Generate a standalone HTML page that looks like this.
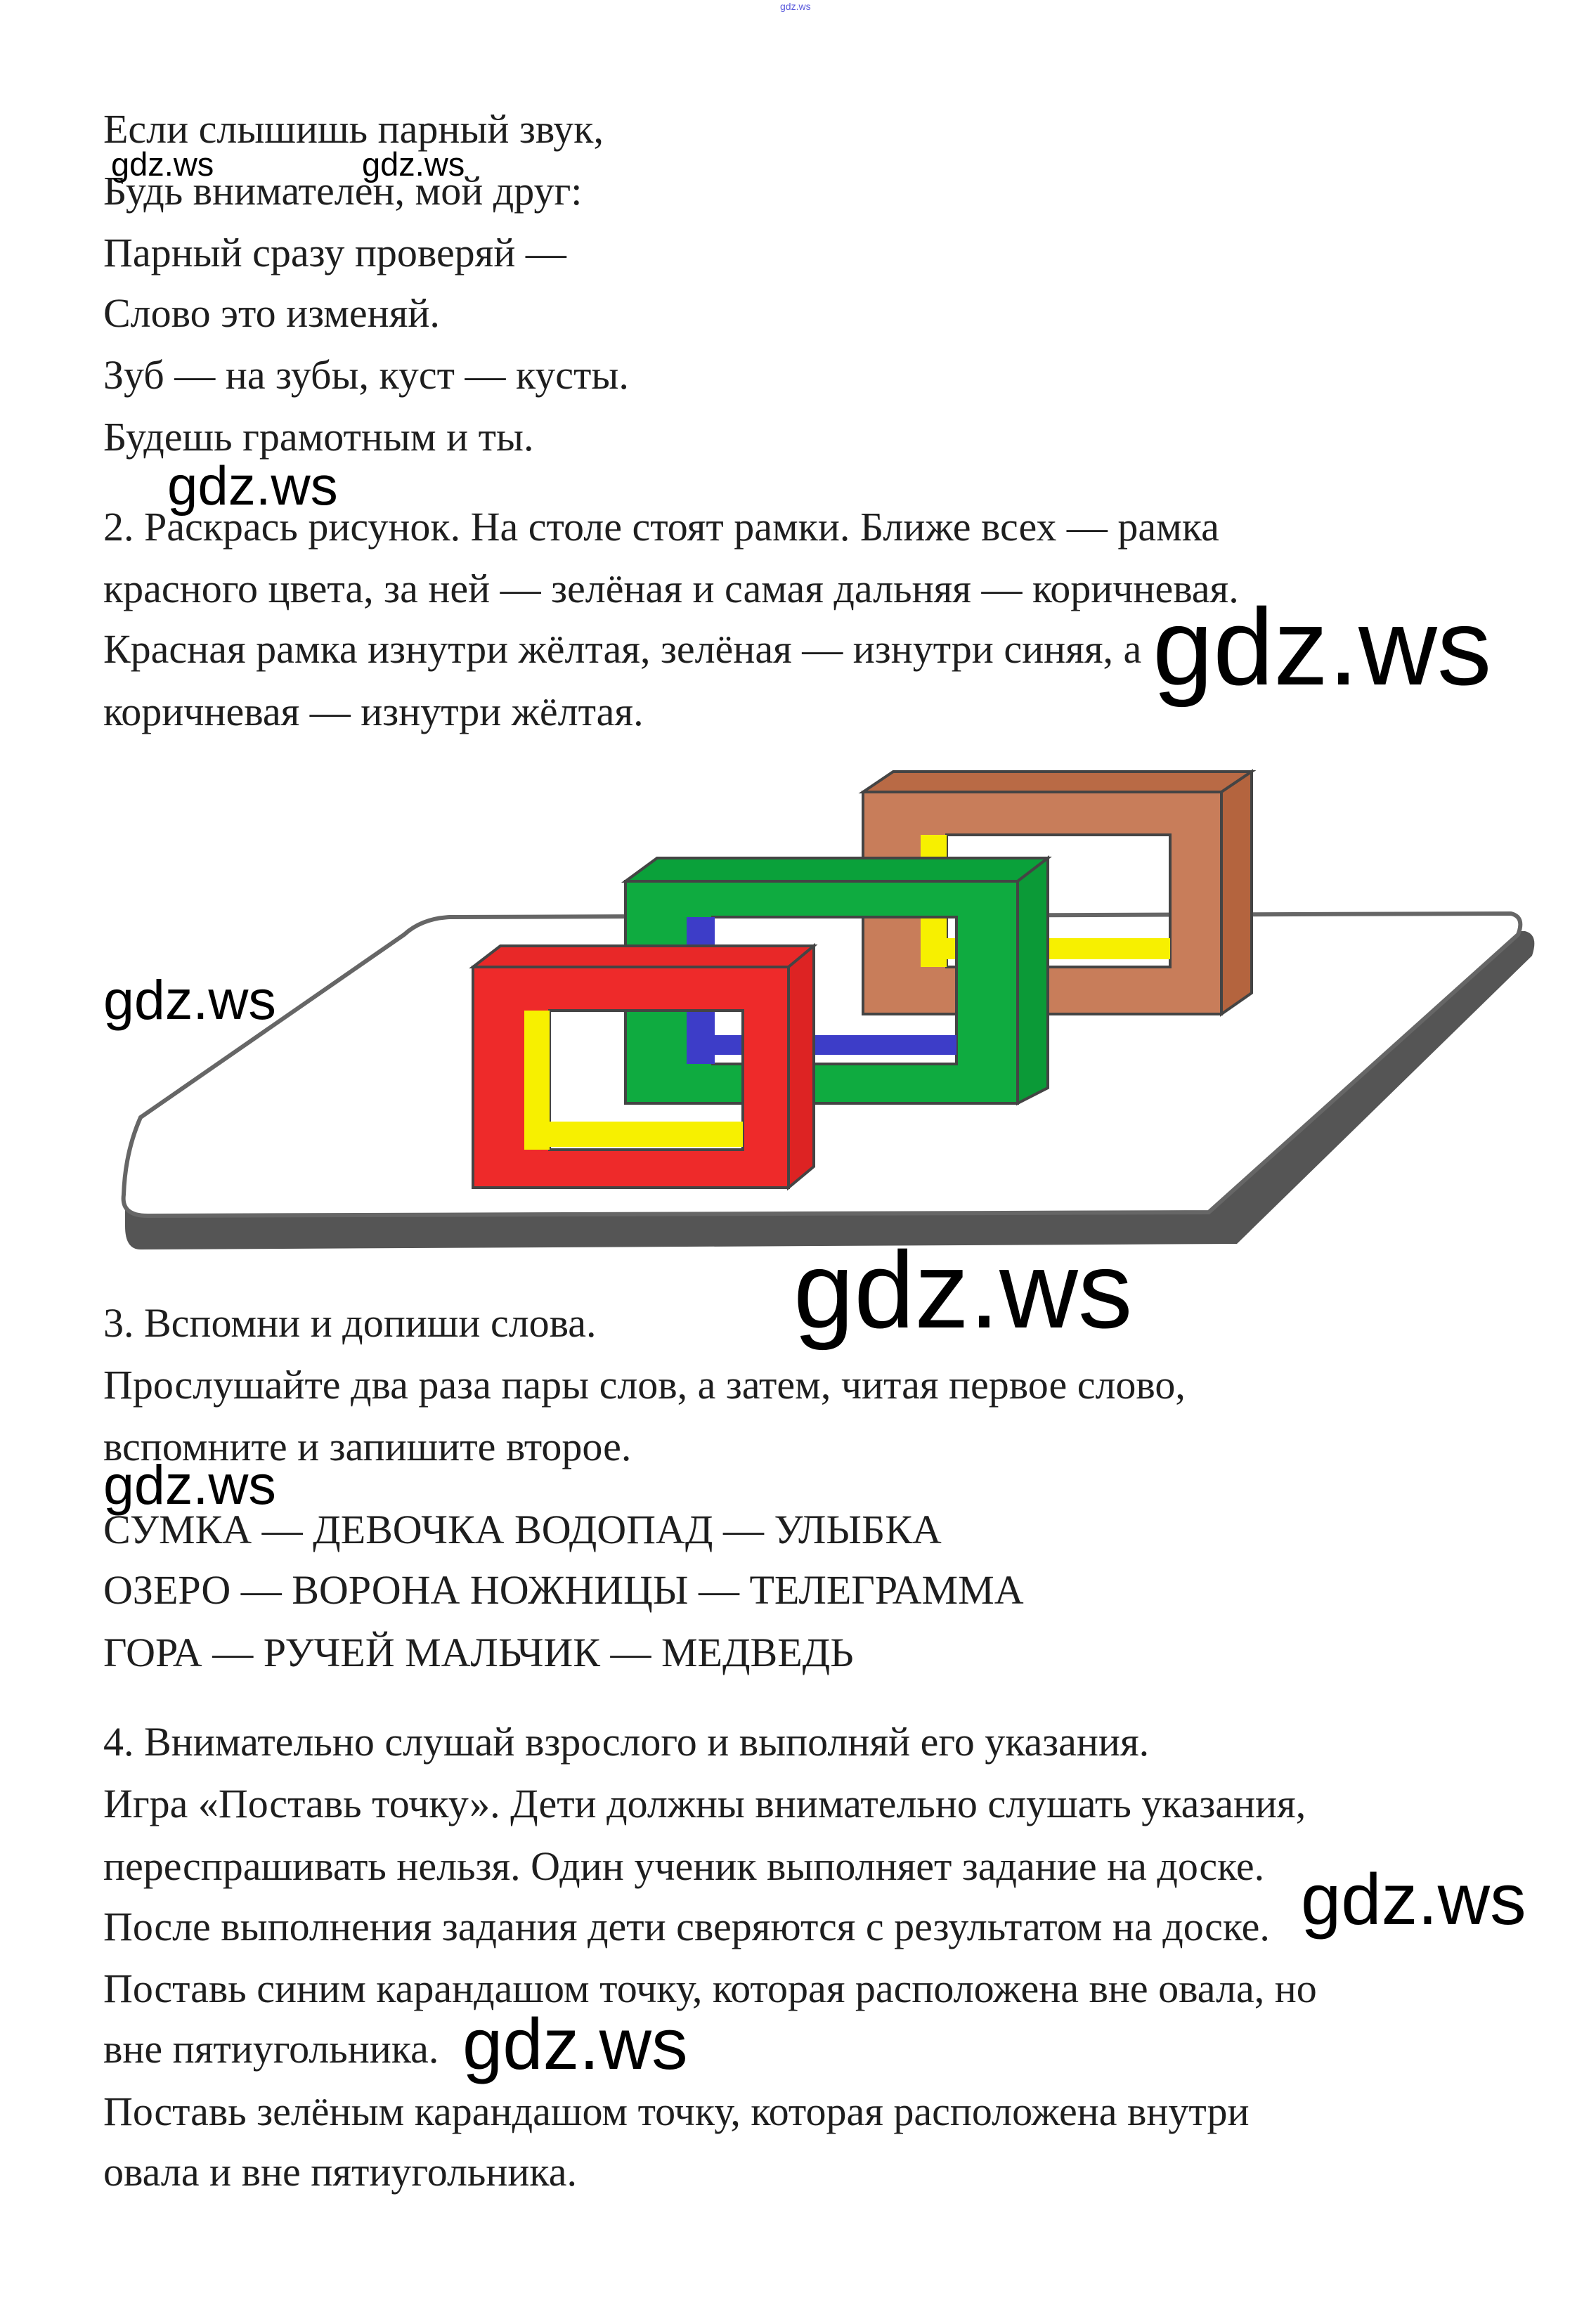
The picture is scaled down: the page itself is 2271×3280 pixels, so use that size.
<!DOCTYPE html>
<html><head><meta charset="utf-8"><style>
html,body{margin:0;padding:0;background:#fff}
body{width:2271px;height:3280px;position:relative;overflow:hidden}
.t{position:absolute;left:147px;font-family:"Liberation Serif","Noto Serif CJK SC",serif;font-size:58px;line-height:58px;color:#1e1e1e;white-space:nowrap}
.w{position:absolute;font-family:"Liberation Sans",sans-serif;line-height:1;color:#000;white-space:nowrap}
</style></head><body>
<div class="w" style="left:1110px;top:2px;font-size:14px;color:#5a5adc">gdz.ws</div>

<div class="t" style="top:155px">Если слышишь парный звук,</div>
<div class="t" style="top:243px">Будь внимателен, мой друг:</div>
<div class="t" style="top:331px">Парный сразу проверяй —</div>
<div class="t" style="top:417px">Слово это изменяй.</div>
<div class="t" style="top:505px">Зуб — на зубы, куст — кусты.</div>
<div class="t" style="top:593px">Будешь грамотным и ты.</div>

<div class="t" style="top:721px">2. Раскрась рисунок. На столе стоят рамки. Ближе всех — рамка</div>
<div class="t" style="top:809px">красного цвета, за ней — зелёная и самая дальняя — коричневая.</div>
<div class="t" style="top:895px">Красная рамка изнутри жёлтая, зелёная — изнутри синяя, а</div>
<div class="t" style="top:984px">коричневая — изнутри жёлтая.</div>

<div class="t" style="top:1854px">3. Вспомни и допиши слова.</div>
<div class="t" style="top:1942px">Прослушайте два раза пары слов, а затем, читая первое слово,</div>
<div class="t" style="top:2030px">вспомните и запишите второе.</div>
<div class="t" style="top:2148px">СУМКА — ДЕВОЧКА ВОДОПАД — УЛЫБКА</div>
<div class="t" style="top:2234px">ОЗЕРО — ВОРОНА НОЖНИЦЫ — ТЕЛЕГРАММА</div>
<div class="t" style="top:2323px">ГОРА — РУЧЕЙ МАЛЬЧИК — МЕДВЕДЬ</div>

<div class="t" style="top:2450px">4. Внимательно слушай взрослого и выполняй его указания.</div>
<div class="t" style="top:2538px">Игра «Поставь точку». Дети должны внимательно слушать указания,</div>
<div class="t" style="top:2627px">переспрашивать нельзя. Один ученик выполняет задание на доске.</div>
<div class="t" style="top:2713px">После выполнения задания дети сверяются с результатом на доске.</div>
<div class="t" style="top:2801px">Поставь синим карандашом точку, которая расположена вне овала, но</div>
<div class="t" style="top:2887px">вне пятиугольника.</div>
<div class="t" style="top:2976px">Поставь зелёным карандашом точку, которая расположена внутри</div>
<div class="t" style="top:3062px">овала и вне пятиугольника.</div>

<svg style="position:absolute;left:0;top:0" width="2271" height="3280">
 <path d="M650,1330 L2170,1325 Q2190,1330 2180,1360 L1760,1770 L200,1778 Q178,1778 178,1745 L178,1720 Z" fill="#555"/>
 <path d="M640,1305 L2150,1300 Q2170,1305 2160,1330 L1720,1725 L210,1730 Q172,1730 176,1700 Q178,1640 200,1590 L575,1330 Q600,1307 640,1305 Z" fill="#fff" stroke="#666" stroke-width="6"/>
 <polygon points="1228,1127 1271,1098 1781,1098 1738,1127" fill="#b96a45" stroke="#444" stroke-width="4"/>
 <polygon points="1738,1127 1781,1098 1781,1413 1738,1443" fill="#b4643e" stroke="#444" stroke-width="4"/>
 <path d="M1228,1127 H1738 V1443 H1228 Z M1347,1188 V1376 H1665 V1188 Z" fill="#c87d5a" fill-rule="evenodd" stroke="#444" stroke-width="4"/>
 <rect x="1310" y="1188" width="37" height="188" fill="#f7f000"/>
 <rect x="1347" y="1335" width="318" height="30" fill="#f7f000"/>
 <polygon points="890,1254 935,1221 1491,1221 1448,1254" fill="#0aa13a" stroke="#444" stroke-width="4"/>
 <polygon points="1448,1254 1491,1221 1491,1548 1448,1570" fill="#0b9a37" stroke="#444" stroke-width="4"/>
 <path d="M890,1254 H1448 V1570 H890 Z M1014,1305 V1514 H1361 V1305 Z" fill="#0fab40" fill-rule="evenodd" stroke="#444" stroke-width="4"/>
 <rect x="977" y="1305" width="40" height="209" fill="#3d3dc8"/>
 <rect x="1014" y="1473" width="347" height="28" fill="#3d3dc8"/>
 <polygon points="673,1376 712,1346 1158,1346 1122,1376" fill="#e82828" stroke="#444" stroke-width="4"/>
 <polygon points="1122,1376 1158,1346 1158,1660 1122,1690" fill="#dd2323" stroke="#444" stroke-width="4"/>
 <path d="M673,1376 H1122 V1690 H673 Z M782,1438 V1636 H1057 V1438 Z" fill="#ee2a2a" fill-rule="evenodd" stroke="#444" stroke-width="4"/>
 <rect x="746" y="1438" width="36" height="198" fill="#f7f000"/>
 <rect x="782" y="1596" width="275" height="36" fill="#f7f000"/>
</svg>

<div class="w" style="left:158px;top:210px;font-size:47px">gdz.ws</div>
<div class="w" style="left:515px;top:210px;font-size:47px">gdz.ws</div>
<div class="w" style="left:238px;top:652px;font-size:78px">gdz.ws</div>
<div class="w" style="left:1640px;top:843px;font-size:155px">gdz.ws</div>
<div class="w" style="left:147px;top:1383px;font-size:79px">gdz.ws</div>
<div class="w" style="left:1129px;top:1758px;font-size:155px">gdz.ws</div>
<div class="w" style="left:147px;top:2073px;font-size:79px">gdz.ws</div>
<div class="w" style="left:1851px;top:2651px;font-size:103px">gdz.ws</div>
<div class="w" style="left:658px;top:2857px;font-size:103px">gdz.ws</div>
</body></html>
